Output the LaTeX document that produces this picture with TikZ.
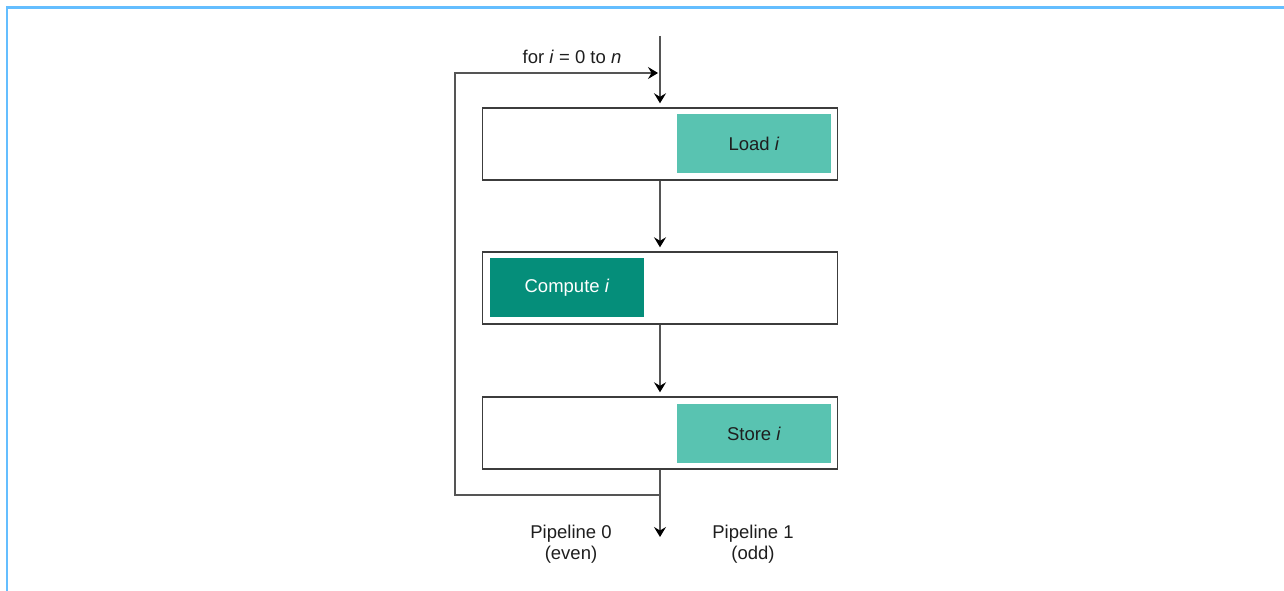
\documentclass[tikz,border=0pt]{standalone}
\usepackage{fontspec}
\setmainfont{Liberation Sans}
\usetikzlibrary{arrows.meta}
\definecolor{framecol}{RGB}{100,190,255}
\definecolor{lightteal}{RGB}{89,195,177}
\definecolor{darkteal}{RGB}{5,142,122}
\definecolor{linecol}{RGB}{85,85,85}
\definecolor{boxline}{RGB}{60,60,60}
\definecolor{txtcol}{RGB}{30,30,30}
\tikzset{
  x=1pt, y=1pt,
  outerbox/.style={draw=boxline, line width=1.4pt, fill=white, minimum width=355pt, minimum height=72pt, inner sep=0pt},
  lightbox/.style={fill=lightteal, text=txtcol, minimum width=154pt, minimum height=59pt, inner sep=0pt, font=\fontsize{18.5}{21}\selectfont},
  darkbox/.style={fill=darkteal, text=white, minimum width=154pt, minimum height=59pt, inner sep=0pt, font=\fontsize{18.5}{21}\selectfont},
  conn/.style={draw=linecol, line width=1.5pt},
  arr/.style={conn, -{Stealth[length=10pt, width=12pt, inset=3.5pt, fill=black, color=black]}},
  lbl/.style={text=txtcol, font=\fontsize{18.5}{21}\selectfont, align=center, inner sep=0pt},
}
\begin{document}
\begin{tikzpicture}
\useasboundingbox (0,0) rectangle (1284,-591);
% frame
\draw[framecol, line width=2.5pt] (7,-591) -- (7,-7.5) -- (1284,-7.5);
% boxes
\node[outerbox] (b1) at (660,-144) {};
\node[outerbox] (b2) at (660,-288) {};
\node[outerbox] (b3) at (660,-433) {};
\node[lightbox] (load) at (754,-143.5) {Load \textit{i}};
\node[darkbox] (comp) at (567,-287.5) {Compute \textit{i}};
\node[lightbox] (store) at (754,-433.5) {Store \textit{i}};
% coordinates
\coordinate (top) at (660,-36);
\coordinate (join) at (660,-73);
\coordinate (lt) at (455,-73);
\coordinate (lb) at (455,-495);
\coordinate (split) at (660,-495);
\coordinate (out) at (660,-537);
% connectors
\draw[arr, shorten >=4pt] (top) -- (b1.north);
\draw[arr, shorten >=4pt] (b1.south) -- (b2.north);
\draw[arr, shorten >=4pt] (b2.south) -- (b3.north);
\draw[conn] (b3.south) -- (split);
\draw[arr, shorten >=2pt] (split) -- (lb) -- (lt) -- (join);
\draw[arr] (split) -- (out);
% labels
\node[lbl] (forlbl) at (572,-57) {for \textit{i} = 0 to \textit{n}};
\node[lbl] (p0) at (571,-544) {Pipeline 0\\(even)};
\node[lbl] (p1) at (753,-544) {Pipeline 1\\(odd)};
\end{tikzpicture}
\end{document}
